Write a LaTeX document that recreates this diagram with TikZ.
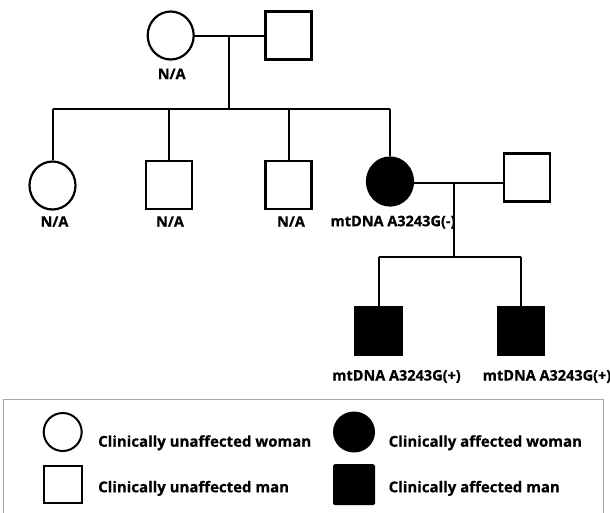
\documentclass[tikz,border=0pt]{standalone}
\usepackage{fontspec}
\setmainfont{Open Sans}[BoldFeatures={FakeBold=0.6}]
\usetikzlibrary{shapes.geometric}
\tikzstyle{woman} = [ellipse, minimum width=46pt, minimum height=48pt, inner sep=0pt, draw=black, line width=2.2pt, fill=white]
\tikzstyle{man} = [rectangle, minimum width=46pt, minimum height=48pt, inner sep=0pt, draw=black, line width=2.2pt, fill=white]
\tikzstyle{affected} = [fill=black]
\tikzstyle{keywoman} = [ellipse, minimum width=38pt, minimum height=38pt, inner sep=0pt, draw=black, line width=2pt, fill=white]
\tikzstyle{keyman} = [rectangle, minimum width=38pt, minimum height=37pt, inner sep=0pt, draw=black, line width=2pt, fill=white]
\tikzstyle{tag} = [font=\bfseries\fontsize{14.5}{16}\selectfont, inner sep=0pt, anchor=base]
\tikzstyle{key} = [font=\bfseries\fontsize{15}{17}\selectfont, inner sep=0pt, anchor=base west]
\tikzstyle{link} = [line width=2pt]

\begin{document}
\begin{tikzpicture}[x=1pt, y=-1pt]
    \useasboundingbox (0,0) rectangle (610,512);

    \node (gm) [woman] at (170.7,35.5) {};
    \node (gf) [man] at (288.5,35.5) {};
    \node (gmlab) [tag] at (171.7,79) {N/A};

    \node (c1) [woman] at (52.5,185.5) {};
    \node (c2) [man] at (169,185) {};
    \node (c3) [man] at (288.5,185) {};
    \node (c4) [woman, affected] at (390,181.5) {};
    \node (sp) [man] at (527,177.5) {};
    \node (c1lab) [tag] at (54.5,226.7) {N/A};
    \node (c2lab) [tag] at (170,226.7) {N/A};
    \node (c3lab) [tag] at (291,226.7) {N/A};
    \node (c4lab) [tag] at (393,226.2) {mtDNA A3243G(-)};

    \node (g1) [man, affected] at (378.5,331) {};
    \node (g2) [man, affected] at (521,331) {};
    \node (g1lab) [tag] at (396.5,380.5) {mtDNA A3243G(+)};
    \node (g2lab) [tag] at (547,380.5) {mtDNA A3243G(+)};

    \coordinate (m1) at (229,35.5);
    \coordinate (s1) at (229,109);
    \coordinate (m2) at (454.3,183.3);
    \coordinate (s2) at (454.3,256.7);

    \draw [link] (gm.east) -- (gf.west);
    \draw [link] (m1) -- (s1);
    \draw [link] (c1.north |- s1) -- (c4.north |- s1);
    \draw [link] (c1.north |- s1) -- (c1.north);
    \draw [link] (c2.north |- s1) -- (c2.north);
    \draw [link] (c3.north |- s1) -- (c3.north);
    \draw [link] (c4.north |- s1) -- (c4.north);

    \draw [link] (c4.east |- m2) -- (sp.west |- m2);
    \draw [link] (m2) -- (s2);
    \draw [link] (g1.north |- s2) -- (g2.north |- s2);
    \draw [link] (g1.north |- s2) -- (g1.north);
    \draw [link] (g2.north |- s2) -- (g2.north);

    \draw [gray!70, line width=1pt] (3.3,516) -- (3.3,399.3) -- (603.3,399.3) -- (603.3,516);
    \node (kw) [keywoman] at (62.7,432) {};
    \node (km) [keyman] at (62.7,484.7) {};
    \node (kaw) [keywoman, affected, minimum width=40pt, minimum height=39pt] at (354,432) {};
    \node (kam) [keyman, affected, minimum width=40pt, minimum height=39pt, rounded corners=1pt] at (354,484.7) {};
    \node (kwlab) [key] at (98,446.7) {Clinically unaffected woman};
    \node (kmlab) [key] at (98,492.3) {Clinically unaffected man};
    \node (kawlab) [key] at (388.5,446.7) {Clinically affected woman};
    \node (kamlab) [key] at (388.5,492.3) {Clinically affected man};

\end{tikzpicture}
\end{document}
